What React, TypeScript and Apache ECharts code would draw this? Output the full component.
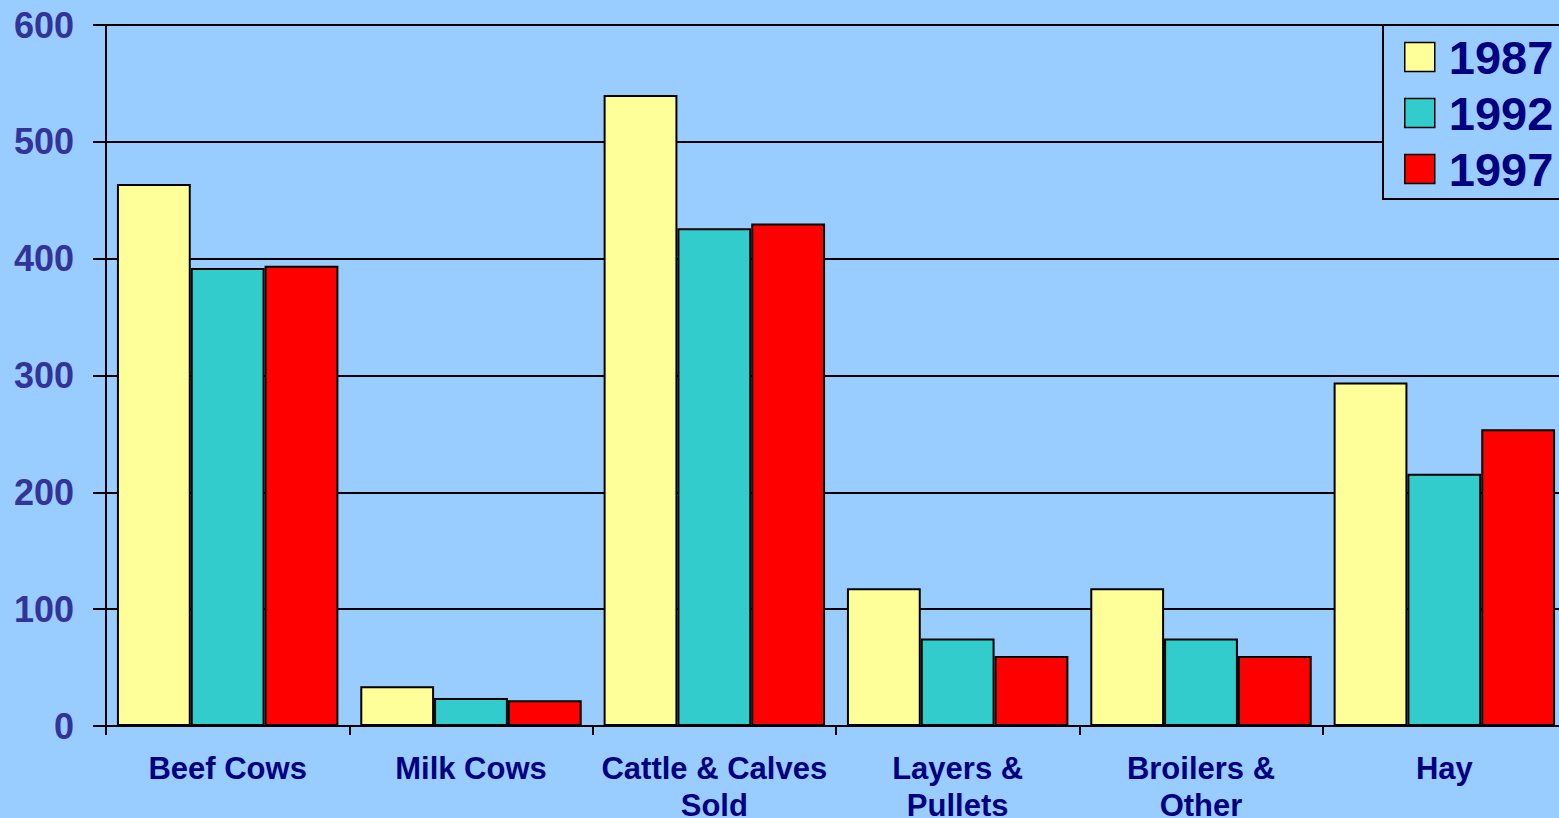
import React, { useEffect, useRef } from "react";
import * as echarts from "echarts";

const categories = ["Beef Cows", "Milk Cows", "Cattle & Calves\nSold", "Layers &\nPullets", "Broilers &\nOther", "Hay"];
const seriesNames = ["1987", "1992", "1997"];
const values1987 = [464, 34, 540, 118, 118, 294];
const values1992 = [392, 24, 426, 75, 75, 216];
const values1997 = [394, 22, 430, 60, 60, 254];
const seriesColors = ["#FFFF99", "#33CCCC", "#FF0000"];
const yTicks = { min: 0, max: 600, interval: 100 };

export default function App() {
  const ref = useRef<HTMLDivElement>(null);
  useEffect(() => {
    document.body.style.margin = "0";
    const chart = echarts.init(ref.current!, null, { renderer: "svg" });
    const font = "'Liberation Sans', Arial, Helvetica, sans-serif";
    const data = [values1987, values1992, values1997];
    chart.setOption({
      animation: false,
      backgroundColor: "#99CCFF",
      textStyle: { fontFamily: font },
      grid: { left: 106, top: 25, right: -7, bottom: 92, containLabel: false, outerBoundsMode: "none" },
      legend: {
        orient: "vertical",
        left: 1383,
        top: 25,
        padding: [7, 22, 5, 21],
        borderColor: "#000000",
        borderWidth: 2,
        backgroundColor: "#99CCFF",
        itemWidth: 30,
        itemHeight: 29,
        itemGap: 6,
        itemStyle: { borderColor: "#000000", borderWidth: 1.5 },
        icon: "rect",
        textStyle: {
          fontSize: 47,
          fontWeight: "bold",
          color: "#000080",
          fontFamily: font,
          lineHeight: 50,
          padding: [0, 0, 0, 9],
        },
        itemTextGap: 5,
        data: seriesNames,
      },
      xAxis: {
        type: "category",
        data: categories,
        boundaryGap: true,
        axisLine: { show: true, lineStyle: { color: "#000000", width: 2 } },
        axisTick: { show: true, length: 9, lineStyle: { color: "#000000", width: 2 }, alignWithLabel: false },
        axisLabel: {
          interval: 0,
          margin: 24,
          fontSize: 31,
          fontWeight: "bold",
          color: "#000080",
          fontFamily: font,
          lineHeight: 37,
        },
      },
      yAxis: {
        type: "value",
        min: yTicks.min,
        max: yTicks.max,
        interval: yTicks.interval,
        axisLine: { show: true, lineStyle: { color: "#000000", width: 2 } },
        axisTick: { show: true, length: 13, inside: false, lineStyle: { color: "#000000", width: 2 } },
        splitLine: { show: true, lineStyle: { color: "#000000", width: 2 } },
        axisLabel: {
          margin: 32,
          fontSize: 36,
          fontWeight: "bold",
          color: "#333399",
          fontFamily: font,
        },
      },
      series: seriesNames.map((name, i) => ({
        name,
        type: "bar",
        data: data[i],
        barGap: "0%",
        barCategoryGap: "9%",
        itemStyle: { color: seriesColors[i], borderColor: "#000000", borderWidth: 2 },
      })),
    });
    return () => chart.dispose();
  }, []);
  return <div ref={ref} style={{ width: 1559, height: 818 }} />;
}
